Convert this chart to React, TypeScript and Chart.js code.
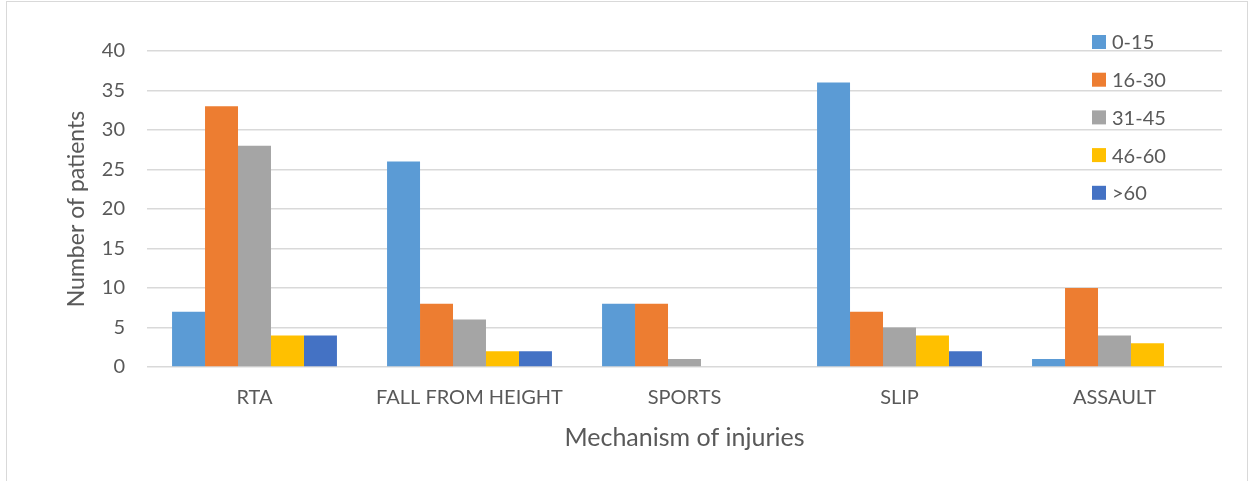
import React, { useEffect, useRef } from "react";
import { Chart, registerables } from "chart.js";

Chart.register(...registerables);

const categories = ["RTA", "FALL FROM HEIGHT", "SPORTS", "SLIP", "ASSAULT"];
const seriesLabels = ["0-15", "16-30", "31-45", "46-60", ">60"];
const seriesColors = ["#5B9BD5", "#ED7D31", "#A5A5A5", "#FFC000", "#4472C4"];
const age0to15 = [7, 26, 8, 36, 1];
const age16to30 = [33, 8, 8, 7, 10];
const age31to45 = [28, 6, 1, 5, 4];
const age46to60 = [4, 2, 0, 4, 3];
const age60plus = [4, 2, 0, 2, 0];
const yTicks = { min: 0, max: 40, step: 5 };

const FONT = "Lato, 'Open Sans', sans-serif";
const TEXT = "#595959";

const legendPlugin = {
  id: "insideLegend",
  afterDraw(chart: any) {
    const ctx = chart.ctx;
    ctx.save();
    ctx.font = `20px ${FONT}`;
    ctx.textBaseline = "middle";
    ctx.textAlign = "left";
    chart.data.datasets.forEach((ds: any, i: number) => {
      const y = 42 + i * 37.7;
      ctx.fillStyle = ds.backgroundColor;
      ctx.fillRect(1092, y - 7, 14, 14);
      ctx.fillStyle = TEXT;
      ctx.fillText(ds.label, 1112, y + 1);
    });
    ctx.restore();
  },
};

export default function App() {
  const ref = useRef<HTMLCanvasElement | null>(null);
  useEffect(() => {
    if (!ref.current) return;
    const values = [age0to15, age16to30, age31to45, age46to60, age60plus];
    const chart = new Chart(ref.current, {
      type: "bar",
      data: {
        labels: categories,
        datasets: seriesLabels.map((label, i) => ({
          label,
          data: values[i],
          backgroundColor: seriesColors[i],
          borderWidth: 0,
          categoryPercentage: 0.767,
          barPercentage: 1,
        })),
      },
      options: {
        responsive: false,
        animation: false,
        layout: { padding: { top: 51, right: 32, left: 0, bottom: 0 } },
        plugins: { legend: { display: false }, tooltip: { enabled: false } },
        scales: {
          x: {
            grid: { display: false, drawTicks: false },
            border: { display: false },
            ticks: { color: TEXT, font: { size: 20, family: FONT }, padding: 19 },
            title: {
              display: true,
              text: "Mechanism of injuries",
              color: TEXT,
              font: { size: 25, family: FONT },
              padding: { top: 0, bottom: 28 },
            },
            afterFit: (s: any) => {
              s.height = 114;
            },
          },
          y: {
            min: yTicks.min,
            max: yTicks.max,
            ticks: { stepSize: yTicks.step, color: TEXT, font: { size: 20, family: FONT }, padding: 22 },
            grid: { color: "#D9D9D9", lineWidth: 1.5, drawTicks: false },
            border: { display: false },
            title: {
              display: true,
              text: "Number of patients",
              color: TEXT,
              font: { size: 23, family: FONT },
              padding: { top: 63, bottom: 0 },
            },
            afterFit: (s: any) => {
              s.width = 147;
            },
          },
        },
      },
      plugins: [legendPlugin],
    });
    return () => chart.destroy();
  }, []);

  return (
    <div style={{ position: "absolute", left: 0, top: 0, width: 1254, height: 481, overflow: "hidden", background: "#fff" }}>
      <div style={{ position: "absolute", left: 6, top: 1, width: 1242, height: 520, border: "1px solid #D9D9D9", boxSizing: "border-box" }} />
      <canvas ref={ref} width={1254} height={481} style={{ position: "absolute", left: 0, top: 0, width: 1254, height: 481 }} />
    </div>
  );
}
